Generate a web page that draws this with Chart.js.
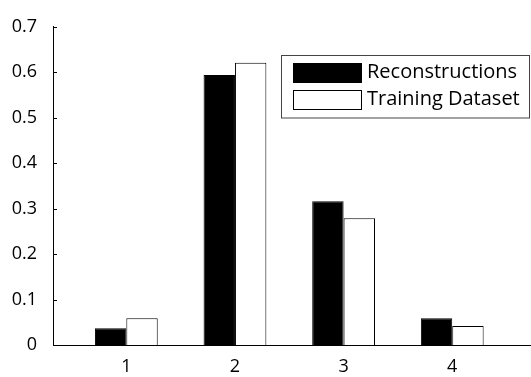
<!DOCTYPE html>
<html>
<head>
<meta charset="utf-8">
<script src="https://cdn.jsdelivr.net/npm/chart.js@4/dist/chart.umd.min.js"></script>
<style>
  html, body { margin: 0; padding: 0; background: #fff; }
  #wrap { width: 531px; height: 377px; }
</style>
</head>
<body>
<div id="wrap"><canvas id="c" width="531" height="377"></canvas></div>
<script>
// Category positions along the x axis
const categories = [1, 2, 3, 4];
// Fraction per category for each series
const reconstructions = [0.037, 0.594, 0.316, 0.059];
const trainingDataset = [0.059, 0.621, 0.279, 0.042];
// Y axis tick labels
const yTickLabels = ['0', '0.1', '0.2', '0.3', '0.4', '0.5', '0.6', '0.7'];
const seriesNames = ['Reconstructions', 'Training Dataset'];

const FONT = 'Open Sans';

// Short inward tick marks on the y axis plus a boxed legend inside the plot
const decorations = {
  id: 'decorations',
  afterDraw(chart) {
    const ctx = chart.ctx;
    const ys = chart.scales.y;
    const area = chart.chartArea;
    ctx.save();
    ctx.strokeStyle = '#000';
    ctx.lineWidth = 1;
    ys.ticks.forEach(t => {
      const py = Math.round(ys.getPixelForValue(t.value)) + 0.5;
      ctx.beginPath();
      ctx.moveTo(area.left, py);
      ctx.lineTo(area.left + 4, py);
      ctx.stroke();
    });

    // legend box
    const bx = 281.5, by = 55.5, bw = 248, bh = 62.5;
    ctx.fillStyle = '#fff';
    ctx.fillRect(bx, by, bw, bh);
    ctx.strokeStyle = '#444';
    ctx.strokeRect(bx, by, bw, bh);
    ctx.font = '20px "' + FONT + '"';
    ctx.textBaseline = 'middle';
    ctx.textAlign = 'left';
    chart.data.datasets.forEach((ds, i) => {
      const sy = 63 + i * 27;
      ctx.fillStyle = ds.backgroundColor;
      ctx.fillRect(293, sy, 69, 20);
      ctx.strokeStyle = '#000';
      ctx.strokeRect(293.5, sy + 0.5, 68, 19);
      ctx.fillStyle = '#000';
      ctx.fillText(ds.label, 367, sy + 9);
    });
    ctx.restore();
  }
};

new Chart(document.getElementById('c'), {
  type: 'bar',
  data: {
    datasets: [
      {
        label: seriesNames[0],
        data: categories.map((x, i) => ({ x, y: reconstructions[i] })),
        backgroundColor: '#000',
        borderColor: '#000',
        borderWidth: 1
      },
      {
        label: seriesNames[1],
        data: categories.map((x, i) => ({ x, y: trainingDataset[i] })),
        backgroundColor: '#fff',
        borderColor: '#000',
        borderWidth: 1
      }
    ]
  },
  options: {
    responsive: false,
    animation: false,
    devicePixelRatio: 1,
    layout: { padding: { top: 14, right: 0, left: 0, bottom: 0 } },
    datasets: { bar: { barPercentage: 1, categoryPercentage: 0.578 } },
    plugins: { legend: { display: false }, tooltip: { enabled: false } },
    scales: {
      x: {
        type: 'linear',
        min: 0.325,
        max: 4.725,
        offset: false,
        afterBuildTicks(scale) { scale.ticks = categories.map(v => ({ value: v })); },
        afterFit(scale) { scale.height = 32; },
        grid: { display: false, drawTicks: false },
        border: { display: true, color: '#000', width: 1 },
        ticks: { color: '#000', font: { family: FONT, size: 18 }, padding: 11, callback: v => String(v) }
      },
      y: {
        min: 0,
        max: 0.7,
        afterBuildTicks(scale) { scale.ticks = yTickLabels.map(s => ({ value: parseFloat(s) })); },
        afterFit(scale) { scale.width = 53; },
        grid: { display: false, drawTicks: false },
        border: { display: true, color: '#000', width: 1 },
        ticks: { color: '#000', font: { family: FONT, size: 18 }, padding: 16, callback: (v, i) => yTickLabels[i] }
      }
    }
  },
  plugins: [decorations]
});
</script>
</body>
</html>
